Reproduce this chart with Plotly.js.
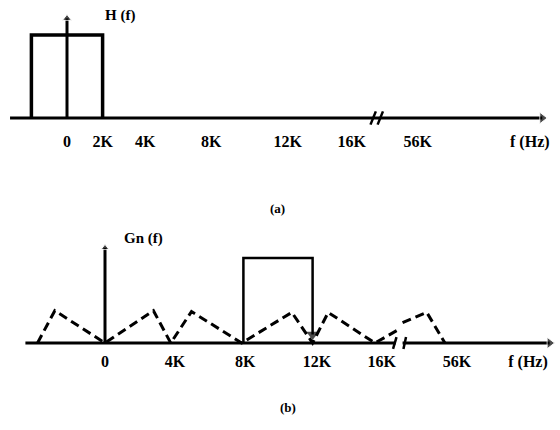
<!DOCTYPE html>
<html><head><meta charset="utf-8">
<script src="https://cdn.plot.ly/plotly-3.0.1.min.js"></script>
<style>html,body{margin:0;padding:0;background:#fff}</style>
</head><body><div id="chart" style="width:560px;height:430px"></div>
<script>
// ---- Panel (a): H(f) ideal low-pass, axis in kHz (drawn, not to scale, with break before 56K)
const tickLabelsA = ['0','2K','4K','8K','12K','16K','56K','f (Hz)'];
const tickPosA    = [0, 2, 4.4, 8.1, 12.4, 16, 19.7, 26.0];
const rectAx = [-2, -2, 2, 2];
const rectAy = [0, 1, 1, 0];
const arrowAx = [0, 0];
const arrowAy = [0, 1.2];
const axisAx = [-3.2, 26.7];
const breakA = 17.4;

// ---- Panel (b): Gn(f) noise spectrum
const tickLabelsB = ['0','4K','8K','12K','16K','56K','f (Hz)'];
const tickPosB    = [0, 4.05, 8.1, 12.25, 16, 20.35, 24.45];
const rectBx = [8, 8, 12, 12];
const rectBy = [0, 1, 1, 0.1];
const arrowBx = [0, 0];
const arrowBy = [0, 1.12];
const noiseX = [-3.9, -2.9, 0, 2.8, 3.8, 5.0, 7.9, 10.8, 12, 12.9, 15.6, 16.9, null, 17.2, 18.6, 19.65];
const noiseY = [0, 0.38, 0, 0.38, 0, 0.37, 0, 0.36, 0, 0.36, 0, 0.15, null, 0.24, 0.36, 0];
const axisBx = [-4.6, 16.8, null, 17.2, 25.7];
const axisBy = [0, 0, null, 0, 0];

const K = 'black';
const fam = '"Liberation Serif", "DejaVu Serif", serif';
const serif = {family: fam, size: 16, color: K};

const traces = [
  // panel a
  {x: axisAx, y: [0, 0], xaxis: 'x', yaxis: 'y', mode: 'lines+markers',
   line: {color: K, width: 3}, marker: {symbol: ['circle', 'triangle-right'], size: [0, 10], color: K}, cliponaxis: false},
  {x: rectAx, y: rectAy, xaxis: 'x', yaxis: 'y', mode: 'lines', line: {color: K, width: 3.5}},
  {x: arrowAx, y: arrowAy, xaxis: 'x', yaxis: 'y', mode: 'lines+markers',
   line: {color: K, width: 3}, marker: {symbol: ['circle', 'triangle-up'], size: [0, 8], color: K}, cliponaxis: false},
  {x: [breakA - 0.35, breakA - 0.05, null, breakA + 0.05, breakA + 0.35],
   y: [-0.08, 0.08, null, -0.08, 0.08], xaxis: 'x', yaxis: 'y', mode: 'lines', line: {color: K, width: 2.5}},
  // panel b
  {x: axisBx, y: axisBy, xaxis: 'x2', yaxis: 'y2', mode: 'lines+markers',
   line: {color: K, width: 3}, marker: {symbol: ['circle','circle','circle','circle','triangle-right'], size: [0,0,0,0,10], color: K}, cliponaxis: false},
  {x: [16.65, 16.85, null, 17.25, 17.4], y: [-0.07, 0.07, null, -0.07, 0.07], xaxis: 'x2', yaxis: 'y2', mode: 'lines', line: {color: K, width: 2.5}},
  {x: noiseX, y: noiseY, xaxis: 'x2', yaxis: 'y2', mode: 'lines', connectgaps: false,
   line: {color: K, width: 3, dash: '9px,5px'}},
  {x: rectBx, y: rectBy, xaxis: 'x2', yaxis: 'y2', mode: 'lines+markers',
   line: {color: K, width: 2.5}, marker: {symbol: ['circle','circle','circle','triangle-down'], size: [0,0,0,11], color: K, line: {width: 0}}},
  {x: arrowBx, y: arrowBy, xaxis: 'x2', yaxis: 'y2', mode: 'lines+markers',
   line: {color: K, width: 3}, marker: {symbol: ['circle', 'triangle-up'], size: [0, 7], color: K}, cliponaxis: false}
];

const axX = (range, ticks, labels, pos, standoff) => ({
  range: range, anchor: 'free', position: pos, domain: [0, 1],
  showgrid: false, zeroline: false, showline: false, ticks: '',
  tickmode: 'array', tickvals: ticks, ticktext: labels.map(s => '<b>' + s + '</b>'),
  tickfont: serif, ticklabelstandoff: standoff, fixedrange: true
});
const axY = (range, dom) => ({range: range, domain: dom, visible: false, fixedrange: true});

const layout = {
  width: 560, height: 430, margin: {l: 0, r: 0, t: 0, b: 0},
  paper_bgcolor: '#fff', plot_bgcolor: '#fff', showlegend: false,
  xaxis: axX([-3.764, 27.697], tickPosA, tickLabelsA, 1 - 118 / 430, 12),
  yaxis: axY([-1.1687, 1.4217], [0.5, 1]),
  xaxis2: axX([-6.069, 26.30], tickPosB, tickLabelsB, 1 - 343 / 430, 7),
  yaxis2: axY([-1.0235, 1.5059], [0, 0.5]),
  annotations: [
    {xref: 'x', yref: 'y', x: 2.0, y: 1.23, text: '<b>H (f)</b>', showarrow: false, xanchor: 'left', font: {family: fam, size: 15, color: K}},
    {xref: 'x2', yref: 'y2', x: 0.98, y: 1.235, text: '<b>Gn (f)</b>', showarrow: false, xanchor: 'left', font: {family: fam, size: 15, color: K}},
    {xref: 'paper', yref: 'paper', x: 277 / 560, y: 1 - 208 / 430, text: '<b>(a)</b>', showarrow: false, font: {family: fam, size: 13, color: K}},
    {xref: 'paper', yref: 'paper', x: 288 / 560, y: 1 - 417 / 430, text: '<b>(b)</b>', showarrow: false, font: {family: fam, size: 13, color: K}}
  ]
};

Plotly.newPlot('chart', traces, layout, {displayModeBar: false, staticPlot: true});
</script></body></html>
